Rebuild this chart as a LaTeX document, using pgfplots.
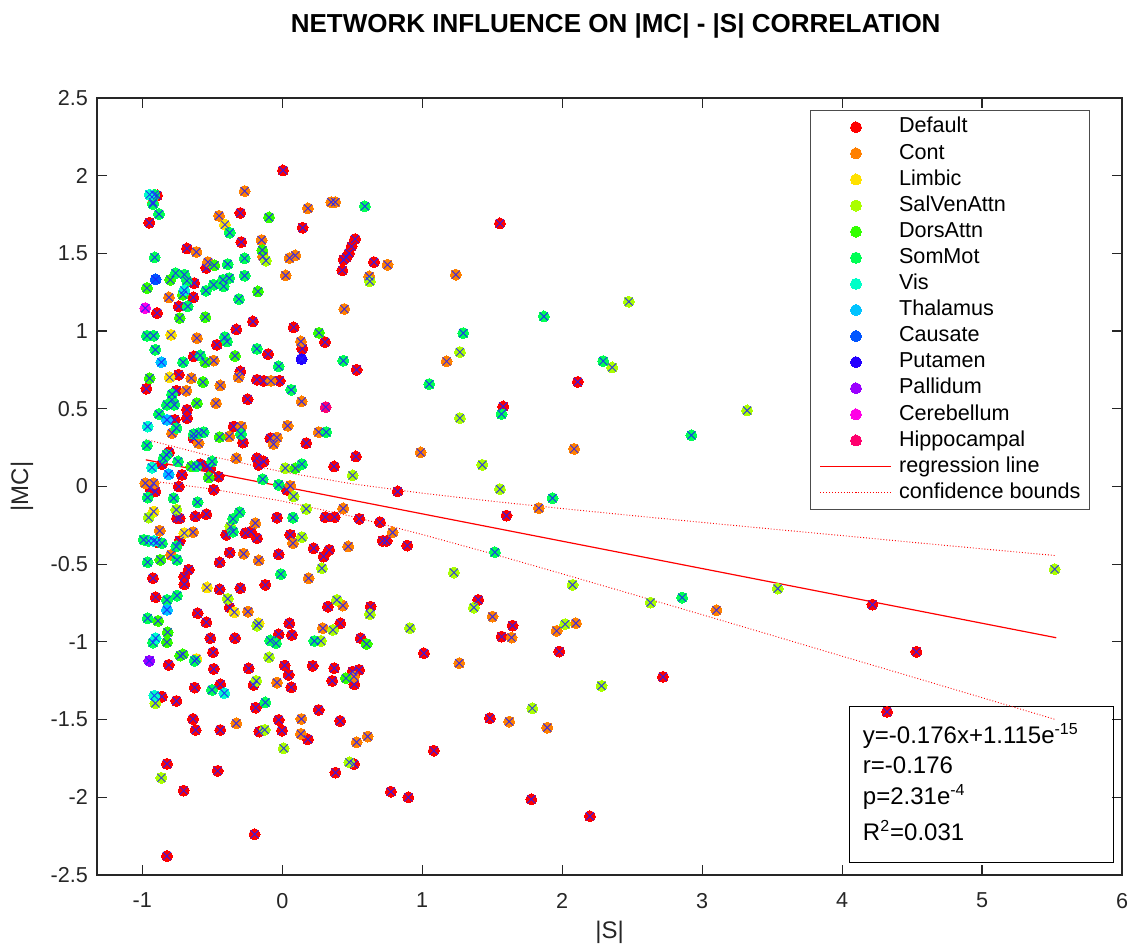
\documentclass[border=0pt]{standalone}
\usepackage{fontspec}
\setmainfont{Liberation Sans}
\usepackage{pgfplots}
\usepackage{pgfplotstable}
\pgfplotsset{compat=1.18}

% network colours
\definecolor{cDefault}{RGB}{255,0,0}
\definecolor{cCont}{RGB}{255,128,0}
\definecolor{cLimbic}{RGB}{255,225,0}
\definecolor{cSalVen}{RGB}{170,255,0}
\definecolor{cDors}{RGB}{50,255,0}
\definecolor{cSomMot}{RGB}{0,255,85}
\definecolor{cVis}{RGB}{0,255,200}
\definecolor{cThal}{RGB}{0,195,255}
\definecolor{cCaus}{RGB}{0,85,255}
\definecolor{cPut}{RGB}{35,0,255}
\definecolor{cPall}{RGB}{155,0,255}
\definecolor{cCereb}{RGB}{255,0,230}
\definecolor{cHippo}{RGB}{255,0,110}
\definecolor{cCross}{RGB}{30,30,255}
\definecolor{axgray}{RGB}{38,38,38}

% |S| (x) and |MC| (y) for each network
\pgfplotstableread{
x y
0.005 2.034
-0.895 1.873
-0.95 1.697
-0.3 1.76
0.145 1.665
-0.293 1.573
-0.681 1.532
-0.543 1.406
-0.629 1.309
-0.636 1.217
-0.74 1.159
-0.895 1.116
-0.21 1.062
-0.329 1.011
0.081 1.024
0.305 0.929
0.143 0.886
-0.467 0.912
-0.102 0.852
-0.633 0.837
-0.74 0.719
-0.971 0.629
-0.757 0.616
-0.3 0.74
-0.181 0.687
-0.133 0.68
-0.019 0.68
-0.248 0.562
-0.769 0.429
-0.681 0.494
-0.681 0.44
-0.348 0.386
-0.281 0.283
-0.633 0.311
-0.086 0.311
0.171 0.279
-0.81 0.221
-0.86 0.144
-0.717 0.075
-0.586 0.144
-0.538 0.129
-0.514 0.118
-0.455 0.064
-0.181 0.182
-0.133 0.161
-0.169 0.139
0.37 0.129
-0.943 -0.011
-0.907 -0.032
-0.74 0
-0.49 -0.021
0.033 -0.021
0.307 -0.197
0.374 -0.197
-0.752 -0.204
-0.733 -0.204
-0.621 -0.193
-0.543 -0.178
-0.4 -0.311
-0.224 -0.29
-0.264 -0.3
-0.181 -0.333
-0.038 -0.2
0.057 -0.311
0.224 -0.397
0.295 -0.451
0.335 -0.408
-0.895 -0.358
-0.733 -0.35
-0.376 -0.425
-0.448 -0.489
-0.026 -0.436
-0.121 -0.633
-0.924 -0.59
-0.669 -0.536
-0.7 -0.58
-0.7 -0.629
-0.448 -0.661
-0.3 -0.654
-0.905 -0.712
-0.376 -0.779
-0.605 -0.815
0.326 -0.773
-0.543 -0.873
0.05 -0.88
0.414 -0.88
-0.514 -0.976
-0.338 -0.976
-0.026 -0.951
0.069 -0.955
-0.495 -1.067
-0.812 -1.148
-0.49 -1.174
-0.24 -1.17
0.017 -1.152
0.045 -1.212
0.217 -1.154
0.371 -1.169
0.357 -1.251
0.064 -1.292
-0.205 -1.277
-0.443 -1.273
-0.626 -1.294
-0.86 -1.352
-0.757 -1.38
-0.19 -1.423
0.26 -1.438
-0.638 -1.496
-0.619 -1.567
-0.443 -1.567
-0.164 -1.577
-0.026 -1.502
-0.002 -1.571
0.183 -1.627
0.413 -1.509
-0.824 -1.785
-0.705 -1.957
-0.462 -1.83
0.38 -1.841
-0.198 -2.238
-0.824 -2.378
1.555 1.693
0.52 1.592
0.495 1.545
0.476 1.502
0.457 1.474
0.438 1.459
0.429 1.391
0.655 1.444
0.531 0.751
1.578 0.515
2.111 0.673
0.526 0.193
0.824 -0.032
1.602 -0.187
0.55 -0.208
0.698 -0.23
0.717 -0.35
0.745 -0.35
0.893 -0.38
1.4 -0.73
0.631 -0.773
1.645 -0.895
1.567 -0.966
1.979 -1.062
0.56 -0.976
1.012 -1.073
0.502 -1.191
0.548 -1.18
0.514 -1.273
1.083 -1.7
1.483 -1.491
0.512 -1.786
0.776 -1.964
0.9 -2.0
1.779 -2.013
2.72 -1.225
2.198 -2.122
4.217 -0.76
4.531 -1.064
4.321 -1.45
}\tblDefault

\pgfplotstableread{
x y
-0.269 1.901
-0.924 1.828
-0.452 1.742
0.183 1.79
0.35 1.83
0.378 1.83
-0.148 1.586
-0.138 1.481
-0.614 1.509
0.052 1.47
0.093 1.487
0.024 1.358
-0.531 1.444
-0.81 1.217
0.133 0.933
-0.61 0.955
-0.49 0.81
-0.312 0.704
-0.65 0.697
-0.443 0.65
-0.686 0.616
-0.081 0.68
0.138 0.547
-0.474 0.536
-0.788 0.343
-0.293 0.386
-0.598 0.279
-0.379 0.322
0.038 0.391
-0.038 0.315
-0.062 0.273
0.26 0.35
-0.329 0.182
-0.979 0.021
-0.919 0.021
0.057 0.004
0.435 -0.141
-0.193 -0.236
-0.876 -0.285
-0.638 -0.294
0.076 -0.365
-0.795 -0.44
-0.276 -0.433
-0.169 -0.476
0.188 -0.59
-0.245 -0.805
0.433 -0.766
0.29 -0.912
-0.038 -1.262
-0.329 -1.524
0.136 -1.496
0.133 -1.592
0.752 1.427
0.621 1.352
1.24 1.363
0.443 1.142
1.174 0.805
0.988 0.219
2.085 0.242
1.833 -0.139
0.788 -0.296
0.471 -0.386
1.502 -0.837
1.638 -0.972
1.96 -0.929
2.098 -0.88
1.264 -1.137
0.512 -1.223
0.531 -1.646
0.61 -1.609
1.621 -1.513
1.893 -1.552
3.102 -0.796
}\tblCont

\pgfplotstableread{
x y
-0.41 1.685
-0.795 0.976
-0.805 0.702
-0.919 -0.161
-0.7 -0.3
-0.538 -0.65
-0.343 -0.809
-0.169 -0.88
-0.614 -1.11
}\tblLimbic

\pgfplotstableread{
x y
-0.117 1.453
0.626 1.32
1.269 0.865
0.021 0.118
0.081 -0.064
0.171 -0.144
-0.955 -0.2
-0.757 -0.15
-0.371 -0.258
0.14 -0.326
0.283 -0.526
-0.39 -0.723
0.39 -0.73
-0.181 -0.895
0.362 -0.923
0.276 -0.994
-0.095 -1.099
-0.186 -1.251
-0.907 -1.395
-0.126 -1.566
0.01 -1.685
-0.864 -1.875
0.479 -1.775
0.502 0.071
1.269 0.44
1.429 0.139
1.555 -0.017
1.226 -0.554
2.074 -0.633
1.369 -0.779
0.626 -0.822
0.912 -0.912
2.021 -0.886
2.281 -1.283
1.786 -1.427
2.476 1.189
2.357 0.766
3.321 0.489
2.631 -0.747
3.54 -0.657
5.519 -0.532
}\tblSalVen

\pgfplotstableread{
x y
-0.095 1.732
-0.143 1.521
-0.486 1.423
-0.967 1.277
-0.8 1.33
-0.71 1.234
-0.174 1.255
-0.733 1.084
-0.55 1.09
0.262 0.989
-0.338 0.84
-0.55 0.80
-0.948 0.697
-0.567 0.672
-0.61 0.536
-0.448 0.318
-0.65 0.129
-0.526 0.058
0.093 0.118
-0.871 -0.472
-0.888 -0.865
-0.819 -0.938
-0.824 -1.002
-0.729 -1.088
-0.71 -1.08
0.455 -1.234
0.602 -1.013
}\tblDors

\pgfplotstableread{
x y
-0.914 1.878
-0.924 1.818
-0.881 1.753
-0.376 1.633
-0.912 1.474
-0.269 1.468
-0.39 1.431
-0.269 1.356
-0.762 1.373
-0.7 1.363
-0.681 1.324
-0.545 1.26
-0.49 1.298
-0.424 1.33
-0.379 1.341
-0.419 1.288
-0.31 1.206
-0.676 1.159
-0.967 0.97
-0.919 0.97
-0.41 0.961
-0.395 0.933
-0.181 0.886
-0.907 0.88
-0.586 0.843
-0.709 0.80
-0.026 0.773
0.436 0.809
0.064 0.622
-0.788 0.594
-0.788 0.558
-0.824 0.526
-0.771 0.526
-0.881 0.466
-0.757 0.376
-0.295 0.337
-0.633 0.337
-0.598 0.343
-0.562 0.35
0.314 0.35
-0.967 0.264
-0.826 0.204
-0.848 0.182
-0.745 0.161
-0.502 0.161
-0.614 0.129
0.14 0.144
-0.14 0.047
-0.962 -0.071
-0.776 -0.075
-0.605 -0.101
-0.026 0.011
-0.305 -0.165
-0.352 -0.208
-0.352 -0.29
0.076 -0.2
-0.99 -0.343
-0.955 -0.35
-0.86 -0.365
-0.757 -0.386
-0.752 -0.472
-0.962 -0.487
-0.01 -0.564
-0.824 -0.73
-0.752 -0.702
-0.962 -0.848
-0.924 -1.004
-0.086 -0.991
-0.045 -1.009
0.229 -0.994
-0.626 -1.122
-0.502 -1.309
-0.121 -1.39
0.59 1.803
1.05 0.659
1.567 0.466
1.931 -0.075
1.519 -0.423
1.869 1.094
1.293 0.987
2.293 0.807
2.923 0.33
2.857 -0.715
}\tblSomMot

\pgfplotstableread{
x y
-0.948 1.878
-0.7 1.262
-0.962 0.386
-0.931 0.122
-0.919 -0.35
-0.905 -0.976
-0.914 -1.346
-0.414 -1.33
}\tblVis

\pgfplotstableread{
x y
-0.864 0.80
-0.824 0.429
-0.812 0.079
-0.824 -0.794
}\tblThal

\pgfplotstableread{
x y
-0.905 1.333
}\tblCaus

\pgfplotstableread{
x y
0.138 0.82
}\tblPut

\pgfplotstableread{
x y
-0.95 -1.122
}\tblPall

\pgfplotstableread{
x y
-0.979 1.148
}\tblCereb

\pgfplotstableread{
x y
0.31 0.511
}\tblHippo

% fitted line y = -0.176 x and its 95% confidence bounds
\pgfplotstableread{
x yfit
-0.975 0.1716
5.53 -0.9733
}\tblFit

\pgfplotstableread{
x up lo
-0.975 0.3029 0.0403
-0.5 0.193 -0.017
0 0.094 -0.094
0.5 0.017 -0.193
1 -0.043 -0.309
1.5 -0.095 -0.433
2 -0.142 -0.562
2.5 -0.187 -0.693
3 -0.231 -0.825
3.5 -0.274 -0.958
4 -0.316 -1.092
4.5 -0.359 -1.225
5 -0.401 -1.359
5.53 -0.445 -1.501
}\tblConf

\begin{document}
\begin{tikzpicture}
\begin{axis}[
  scale only axis,
  width=512.5pt, height=388.5pt,
  xmin=-1.324, xmax=6, ymin=-2.5, ymax=2.5,
  xtick={-1,0,...,6},
  ytick={-2.5,-2,...,2.5},
  tick align=inside,
  xtick pos=both, ytick pos=both,
  major tick length=5pt,
  axis line style={axgray, line width=0.6pt},
  every tick/.style={axgray, line width=0.6pt},
  /pgf/number format/assume math mode=true,
  tick label style={font=\fontsize{10.8}{12}\selectfont, text=axgray},
  xticklabel style={yshift=-5.5pt},
  yticklabel style={xshift=-1pt},
  xlabel={|S|},
  ylabel={|MC|},
  xlabel style={at={(axis description cs:0.5,-0.074)}, anchor=center, font=\fontsize{12}{14}\selectfont, text=axgray},
  ylabel style={at={(axis description cs:-0.0732,0.5)}, anchor=center, font=\fontsize{12}{14}\selectfont, text=axgray},
  title={NETWORK INFLUENCE ON |MC| - |S| CORRELATION},
  title style={at={(axis description cs:0.506,1.0927)}, anchor=center, yshift=-6pt, font=\bfseries\fontsize{13}{15}\selectfont},
  legend image code/.code={\draw[mark repeat=2,mark phase=2,#1] plot coordinates {(0pt,0pt) (17.75pt,0pt) (35.5pt,0pt)};},
  legend cell align=left,
  legend style={
    at={(rel axis cs:0.9688,0.9846)}, anchor=north east,
    draw=black!70, line width=0.6pt, fill=white,
    font=\fontsize{10.8}{12}\selectfont,
    inner xsep=4.5pt, inner ysep=3pt,
    row sep=2.35pt, column sep=3.5pt,
    nodes={inner sep=0pt, text height=8.2pt, text depth=2.5pt},
  },
  dot/.style={only marks, mark=*, mark size=2.75pt, mark options={draw=#1, fill=#1, line width=0pt}},
  cross/.style={only marks, mark=x, mark size=2.8pt, forget plot, mark options={draw=cCross, line width=0.5pt, opacity=0.85}},
]
\addplot[dot=cDefault] table {\tblDefault}; \addlegendentry{Default}
\addplot[dot=cCont]    table {\tblCont};    \addlegendentry{Cont}
\addplot[dot=cLimbic]  table {\tblLimbic};  \addlegendentry{Limbic}
\addplot[dot=cSalVen]  table {\tblSalVen};  \addlegendentry{SalVenAttn}
\addplot[dot=cDors]    table {\tblDors};    \addlegendentry{DorsAttn}
\addplot[dot=cSomMot]  table {\tblSomMot};  \addlegendentry{SomMot}
\addplot[dot=cVis]     table {\tblVis};     \addlegendentry{Vis}
\addplot[dot=cThal]    table {\tblThal};    \addlegendentry{Thalamus}
\addplot[dot=cCaus]    table {\tblCaus};    \addlegendentry{Causate}
\addplot[dot=cPut]     table {\tblPut};     \addlegendentry{Putamen}
\addplot[dot=cPall]    table {\tblPall};    \addlegendentry{Pallidum}
\addplot[dot=cCereb]   table {\tblCereb};   \addlegendentry{Cerebellum}
\addplot[dot=cHippo]   table {\tblHippo};   \addlegendentry{Hippocampal}

% blue crosses over every point
\addplot[cross] table {\tblDefault};
\addplot[cross] table {\tblCont};
\addplot[cross] table {\tblLimbic};
\addplot[cross] table {\tblSalVen};
\addplot[cross] table {\tblDors};
\addplot[cross] table {\tblSomMot};
\addplot[cross] table {\tblVis};
\addplot[cross] table {\tblThal};
\addplot[cross] table {\tblCaus};
\addplot[cross] table {\tblPut};
\addplot[cross] table {\tblPall};
\addplot[cross] table {\tblCereb};
\addplot[cross] table {\tblHippo};

% statistics box (drawn before the fit so the bound line crosses it)
\draw[black, line width=0.6pt] (axis cs:4.055,-1.415) rectangle (axis cs:5.941,-2.419);
\begin{scope}[every node/.style={anchor=base west, inner sep=0pt, font=\fontsize{12}{14}\selectfont}]
\node at (axis cs:4.146,-1.651) {y=-0.176x+1.115e\textsuperscript{-15}};
\node at (axis cs:4.146,-1.848) {r=-0.176};
\node at (axis cs:4.146,-2.045) {p=2.31e\textsuperscript{-4}};
\node at (axis cs:4.146,-2.278) {R\textsuperscript{2}=0.031};
\end{scope}

\addplot[red, line width=0.6pt, mark=none] table[x=x, y=yfit] {\tblFit};
\addlegendentry{regression line}
\addplot[red, densely dotted, line width=0.45pt, mark=none] table[x=x, y=up] {\tblConf};
\addlegendentry{confidence bounds}
\addplot[red, densely dotted, line width=0.45pt, mark=none, forget plot] table[x=x, y=lo] {\tblConf};
\end{axis}
% page frame
\pgfresetboundingbox
\path[use as bounding box] ([shift={(-48.5pt,-37pt)}]current axis.south west) rectangle ([shift={(5pt,49pt)}]current axis.north east);
\end{tikzpicture}
\end{document}
